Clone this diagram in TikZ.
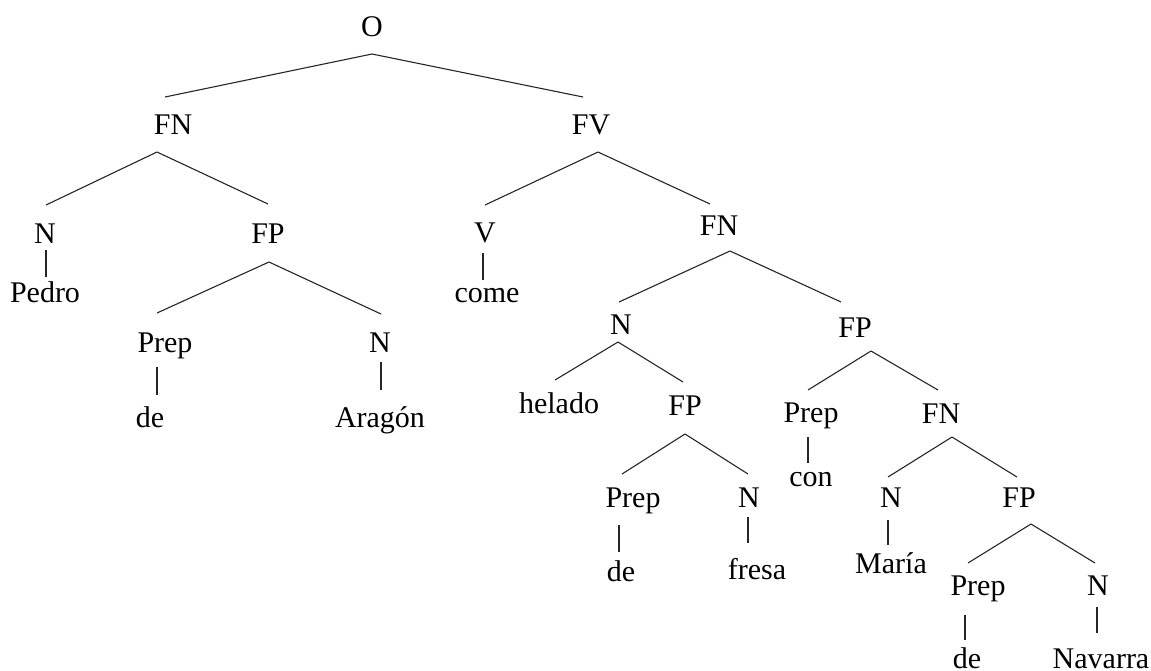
\documentclass[tikz,border=0pt]{standalone}
\usepackage{fontspec}
\setmainfont{Liberation Serif}
\begin{document}
\begin{tikzpicture}[x=1pt,y=-1pt,
  lab/.style={anchor=base, inner sep=0pt, font=\fontsize{30}{36}\selectfont},
  branch/.style={line width=1.1pt, draw=black!85}]
\useasboundingbox (0,0) rectangle (1151,670);

% labels (placed at their baselines)
\node[lab] (O)     at (372,36)  {O};
\node[lab] (FNa)   at (173,134) {FN};
\node[lab] (FV)    at (591,134) {FV};
\node[lab] (Na)    at (45,243)  {N};
\node[lab] (Pedro) at (45,302)  {Pedro};
\node[lab] (FPa)   at (268,243) {FP};
\node[lab] (Prepa) at (165,352) {Prep};
\node[lab] (dea)   at (150,427) {de};
\node[lab] (Nb)    at (380,352) {N};
\node[lab] (Aragon) at (380,427) {Aragón};
\node[lab] (V)     at (485,242) {V};
\node[lab] (come)  at (487,302) {come};
\node[lab] (FNb)   at (719,235) {FN};
\node[lab] (Nc)    at (621,334) {N};
\node[lab] (FPb)   at (855,337) {FP};
\node[lab] (helado) at (559,413) {helado};
\node[lab] (FPc)   at (685,415) {FP};
\node[lab] (Prepb) at (633,507) {Prep};
\node[lab] (deb)   at (621,581) {de};
\node[lab] (Nd)    at (749,507) {N};
\node[lab] (fresa) at (757,579) {fresa};
\node[lab] (Prepc) at (811,422) {Prep};
\node[lab] (con)   at (811,486) {con};
\node[lab] (FNc)   at (941,423) {FN};
\node[lab] (Ne)    at (891,507) {N};
\node[lab] (Maria) at (891,573) {María};
\node[lab] (FPd)   at (1019,507) {FP};
\node[lab] (Prepd) at (978,595) {Prep};
\node[lab] (dec)   at (967,668) {de};
\node[lab] (Nf)    at (1098,595) {N};
\node[lab] (Navarra) at (1101,668) {Navarra};

% branches
\draw[branch] ([shift={(0,18)}]O.base) -- ([shift={(-8,-37)}]FNa.base);
\draw[branch] ([shift={(0,18)}]O.base) -- ([shift={(-8,-37)}]FV.base);

\draw[branch] ([shift={(-16,18)}]FNa.base) -- ([shift={(1,-38)}]Na.base);
\draw[branch] ([shift={(-16,18)}]FNa.base) -- ([shift={(0,-39)}]FPa.base);
\draw[branch] ([shift={(1,7)}]Na.base) -- ([shift={(1,-25)}]Pedro.base);
\draw[branch] ([shift={(1,19)}]FPa.base) -- ([shift={(-8,-39)}]Prepa.base);
\draw[branch] ([shift={(1,19)}]FPa.base) -- ([shift={(1,-38)}]Nb.base);
\draw[branch] ([shift={(-8,15)}]Prepa.base) -- ([shift={(7,-32)}]dea.base);
\draw[branch] ([shift={(1,10)}]Nb.base) -- ([shift={(1,-37)}]Aragon.base);

\draw[branch] ([shift={(7,18)}]FV.base) -- ([shift={(0,-37)}]V.base);
\draw[branch] ([shift={(7,18)}]FV.base) -- ([shift={(-9,-31)}]FNb.base);
\draw[branch] ([shift={(-2,11)}]V.base) -- ([shift={(-4,-22)}]come.base);

\draw[branch] ([shift={(11,16)}]FNb.base) -- ([shift={(-2,-32)}]Nc.base);
\draw[branch] ([shift={(11,16)}]FNb.base) -- ([shift={(-14,-35)}]FPb.base);

\draw[branch] ([shift={(-3,8)}]Nc.base) -- ([shift={(-4,-33)}]helado.base);
\draw[branch] ([shift={(-3,8)}]Nc.base) -- ([shift={(-2,-33)}]FPc.base);
\draw[branch] ([shift={(0,19)}]FPc.base) -- ([shift={(-11,-33)}]Prepb.base);
\draw[branch] ([shift={(0,19)}]FPc.base) -- ([shift={(-1,-33)}]Nd.base);
\draw[branch] ([shift={(-14,18)}]Prepb.base) -- ([shift={(-2,-29)}]deb.base);
\draw[branch] ([shift={(-1,10)}]Nd.base) -- ([shift={(-9,-36)}]fresa.base);

\draw[branch] ([shift={(16,14)}]FPb.base) -- ([shift={(-3,-32)}]Prepc.base);
\draw[branch] ([shift={(16,14)}]FPb.base) -- ([shift={(-3,-33)}]FNc.base);
\draw[branch] ([shift={(-3,15)}]Prepc.base) -- ([shift={(-3,-23)}]con.base);

\draw[branch] ([shift={(11,14)}]FNc.base) -- ([shift={(-3,-30)}]Ne.base);
\draw[branch] ([shift={(11,14)}]FNc.base) -- ([shift={(-2,-30)}]FPd.base);
\draw[branch] ([shift={(-3,13)}]Ne.base) -- ([shift={(-3,-28)}]Maria.base);
\draw[branch] ([shift={(12,17)}]FPd.base) -- ([shift={(-10,-32)}]Prepd.base);
\draw[branch] ([shift={(12,17)}]FPd.base) -- ([shift={(-3,-32)}]Nf.base);
\draw[branch] ([shift={(-13,20)}]Prepd.base) -- ([shift={(-2,-28)}]dec.base);
\draw[branch] ([shift={(-1,12)}]Nf.base) -- ([shift={(-4,-35)}]Navarra.base);
\end{tikzpicture}
\end{document}
